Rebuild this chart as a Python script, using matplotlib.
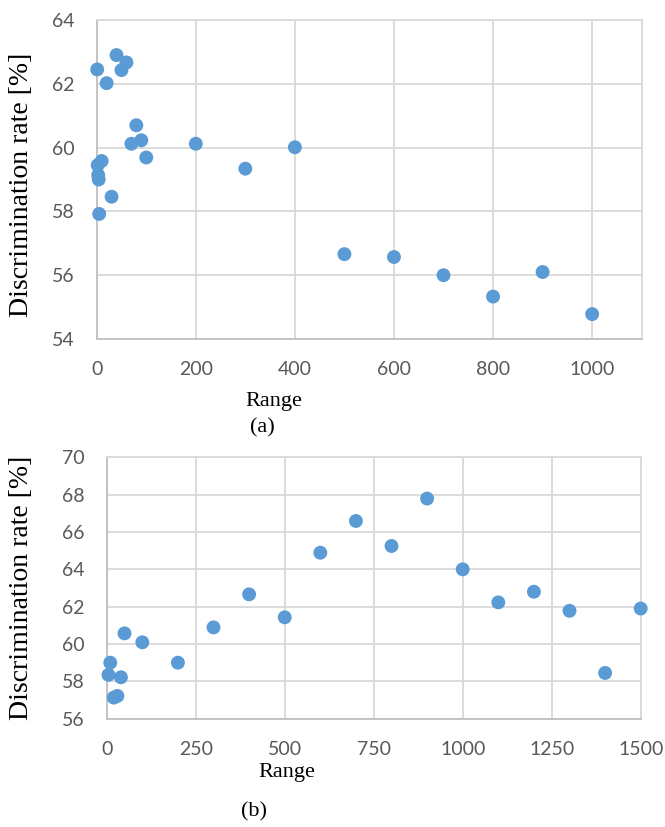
import matplotlib
matplotlib.use("Agg")
import matplotlib.pyplot as plt

# ---- data (a) ----
range_a = [1, 2, 3, 4, 5, 10, 20, 30, 40, 50, 60, 70, 80, 90, 100,
           200, 300, 400, 500, 600, 700, 800, 900, 1000]
rate_a = [62.45, 59.45, 59.14, 59.0, 57.92, 59.58, 62.02, 58.46, 62.9, 62.43,
          62.67, 60.12, 60.7, 60.23, 59.69,
          60.12, 59.34, 60.01, 56.66, 56.57, 56.0, 55.33, 56.1, 54.78]

# ---- data (b) ----
range_b = [5, 10, 20, 30, 40, 50, 100, 200, 300, 400, 500, 600, 700, 800,
           900, 1000, 1100, 1200, 1300, 1400, 1500]
rate_b = [58.35, 59.0, 57.13, 57.22, 58.22, 60.57, 60.09, 59.0, 60.89, 62.66,
          61.43, 64.89, 66.59, 65.25, 67.79, 64.0, 62.23, 62.8, 61.78, 58.45, 61.9]

xticks_a = [0, 200, 400, 600, 800, 1000]
yticks_a = [54, 56, 58, 60, 62, 64]
xticks_b = [0, 250, 500, 750, 1000, 1250, 1500]
yticks_b = [56, 58, 60, 62, 64, 66, 68, 70]

W, H = 665, 827
fig = plt.figure(figsize=(W / 100, H / 100), dpi=100)

tick_font = "Lato"
serif = "Liberation Serif"
blue = "#5B9BD5"
gridc = "#D9D9D9"
tickc = "#595959"


def style(ax, xt, yt, xlim, ylim):
    ax.set_xlim(*xlim)
    ax.set_ylim(*ylim)
    ax.set_xticks(xt)
    ax.set_yticks(yt)
    ax.grid(True, color=gridc, linewidth=1.3, zorder=0)
    ax.set_axisbelow(True)
    for s in ["top", "right"]:
        ax.spines[s].set_color(gridc)
        ax.spines[s].set_linewidth(1.3)
    for s in ["left", "bottom"]:
        ax.spines[s].set_color("#BFBFBF")
        ax.spines[s].set_linewidth(1.3)
    ax.tick_params(length=0, colors=tickc, labelsize=14, pad=16)
    for lab in ax.get_xticklabels() + ax.get_yticklabels():
        lab.set_fontfamily(tick_font)
        lab.set_color(tickc)


# axes (a)
ax1 = fig.add_axes([96.7 / W, 1 - 339 / H, (641.7 - 96.7) / W, (339 - 20) / H])
ax1.scatter(range_a, rate_a, s=100, color=blue, edgecolors="none", zorder=3, clip_on=False)
style(ax1, xticks_a, yticks_a, (0, 1100), (54, 64))

# axes (b)
ax2 = fig.add_axes([106.7 / W, 1 - 718.7 / H, (640.7 - 106.7) / W, (718.7 - 457.3) / H])
ax2.scatter(range_b, rate_b, s=100, color=blue, edgecolors="none", zorder=3, clip_on=False)
style(ax2, xticks_b, yticks_b, (0, 1500), (56, 70))

# y labels
fig.text(22 / W, 1 - 185 / H, "Discrimination rate [%]", rotation=90,
         ha="center", va="center", fontsize=20, family=serif)
fig.text(22 / W, 1 - 588 / H, "Discrimination rate [%]", rotation=90,
         ha="center", va="center", fontsize=20, family=serif)

# x labels and captions
fig.text(274 / W, 1 - 402 / H, "Range", ha="center", va="center", fontsize=16, family=serif)
fig.text(262 / W, 1 - 428 / H, "(a)", ha="center", va="center", fontsize=16, family=serif)
fig.text(287 / W, 1 - 773 / H, "Range", ha="center", va="center", fontsize=16, family=serif)
fig.text(254 / W, 1 - 812 / H, "(b)", ha="center", va="center", fontsize=16, family=serif)

fig.savefig("out.png", dpi=100)
